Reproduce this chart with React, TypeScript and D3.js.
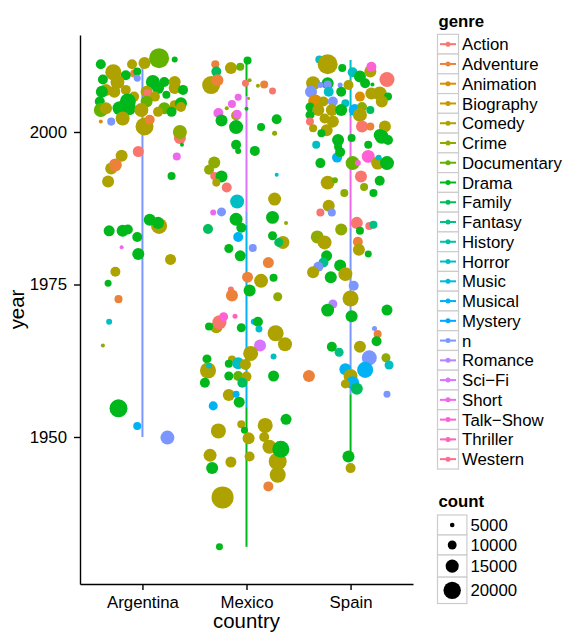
import React, { useEffect, useRef } from 'react';
import * as d3 from 'd3';

// [year, jitter (in category steps), genre, count]
type Film = [number, number, string, number];
// [from year, to year, genre]
type Seg = [number, number, string];

const countries = ['Argentina', 'Mexico', 'Spain'];
const genres = ['Action', 'Adventure', 'Animation', 'Biography', 'Comedy', 'Crime', 'Documentary', 'Drama',
    'Family', 'Fantasy', 'History', 'Horror', 'Music', 'Musical', 'Mystery', 'n', 'Romance', 'Sci\u2212Fi',
    'Short', 'Talk\u2212Show', 'Thriller', 'Western'];
const yearTicks = [1950, 1975, 2000];
const countBreaks = [5000, 10000, 15000, 20000];

const argentinaFilms: Film[] = [
    [2011.1, -0.40, 'Drama', 11300], [2009.8, -0.28, 'Comedy', 18400], [2011.1, -0.10, 'Comedy', 11300],
    [2011.3, 0.02, 'Comedy', 13700], [2012.1, 0.16, 'Documentary', 23000], [2011.9, 0.31, 'Drama', 6600],
    [2009.6, -0.08, 'Adventure', 9000], [2009.9, -0.05, 'Drama', 9000], [2008.8, -0.05, 'n', 7800],
    [2009.3, -0.16, 'Drama', 11300], [2008.6, -0.38, 'Drama', 11300], [2008.2, -0.24, 'Comedy', 16000],
    [2008.2, 0.10, 'Drama', 16000], [2008.2, 0.21, 'Drama', 11300], [2008.2, 0.31, 'Comedy', 13700],
    [2006.9, -0.35, 'Comedy', 13700], [2006.6, -0.39, 'Drama', 13700], [2006.6, -0.27, 'Comedy', 13700],
    [2006.9, -0.16, 'Comedy', 11300], [2006.6, 0.04, 'Comedy', 13700], [2006.4, 0.05, 'Action', 9000],
    [2007.2, 0.15, 'Drama', 13700], [2006.1, 0.23, 'Drama', 9000], [2007.2, 0.31, 'Comedy', 13700],
    [2006.9, 0.39, 'Drama', 11300], [2005.8, 0.12, 'Comedy', 11300], [2005.8, -0.08, 'Comedy', 11300],
    [2005.0, -0.41, 'Drama', 11300], [2005.0, -0.14, 'Drama', 18400], [2005.0, 0.04, 'Documentary', 13700],
    [2003.9, 0.21, 'Documentary', 13700], [2004.4, 0.31, 'Comedy', 11300], [2004.7, 0.37, 'Drama', 13700],
    [2003.6, -0.40, 'Documentary', 16000], [2003.9, -0.35, 'Comedy', 13700], [2003.9, -0.22, 'Drama', 16000],
    [2003.9, -0.13, 'Drama', 16000], [2003.6, -0.01, 'Comedy', 16000], [2003.3, 0.15, 'Comedy', 11300],
    [2003.3, 0.28, 'Drama', 11300], [2004.1, 0.37, 'Comedy', 11300], [2002.2, -0.19, 'Comedy', 16000],
    [2000.9, 0.02, 'Comedy', 20700], [2002.0, 0.07, 'Adventure', 11300], [2001.7, -0.40, 'Animation', 4300],
    [2001.7, -0.30, 'n', 9000], [1999.0, 0.36, 'Action', 13700], [2000.0, 0.36, 'Crime', 16000],
    [1997.9, 0.38, 'Drama', 4300], [1996.8, -0.04, 'Action', 12500], [1996.1, -0.20, 'Comedy', 13700],
    [1994.0, -0.30, 'Comedy', 13700], [1994.6, -0.26, 'Adventure', 14800], [1991.9, -0.33, 'Comedy', 13700],
    [1996.0, 0.33, 'Short', 9000], [1992.8, 0.28, 'Drama', 9000], [1984.6, 0.16, 'Comedy', 18400],
    [1983.8, -0.32, 'Drama', 12500], [1983.8, -0.19, 'Drama', 13700], [1984.0, -0.14, 'Drama', 11300],
    [1982.8, -0.05, 'Drama', 11300], [1985.6, 0.07, 'Drama', 13700], [1985.1, 0.15, 'Drama', 13700],
    [1981.1, -0.20, 'Short', 4300], [1980.0, -0.04, 'Drama', 13700], [1979.1, 0.27, 'Comedy', 12500],
    [1977.1, -0.26, 'Comedy', 11300], [1975.2, -0.33, 'Drama', 7800], [1972.6, -0.23, 'Adventure', 9000],
    [1968.9, -0.32, 'Horror', 6600], [1965.0, -0.38, 'Crime', 4300], [1954.7, -0.23, 'Drama', 20700],
    [1951.8, -0.05, 'Musical', 9000], [1949.9, 0.24, 'n', 16000],
];

const mexicoFilms: Film[] = [
    [2007.7, -0.34, 'Comedy', 20700], [2011.1, -0.30, 'Adventure', 9000], [2009.9, -0.29, 'Family', 11300],
    [2008.5, -0.28, 'Adventure', 13700], [2010.5, -0.15, 'Comedy', 13700], [2010.7, -0.06, 'Documentary', 9000],
    [2011.7, 0.01, 'Drama', 9000], [2008.0, -0.01, 'Action', 7800], [2008.5, 0.03, 'Crime', 4300],
    [2007.6, 0.11, 'Crime', 4300], [2007.8, 0.17, 'Adventure', 9000], [2006.7, 0.25, 'Action', 7800],
    [2005.5, 0.02, 'Crime', 3100], [2005.7, -0.08, 'Short', 7800], [2004.6, -0.14, 'Short', 9000],
    [2003.9, -0.19, 'Crime', 4300], [2003.1, -0.27, 'Short', 11300], [2002.7, -0.10, 'Comedy', 11300],
    [2002.9, -0.09, 'Short', 10200], [2003.8, 0.00, 'Drama', 4300], [2001.9, -0.24, 'Drama', 13700],
    [2000.8, -0.10, 'Drama', 16000], [2002.1, 0.29, 'Drama', 11300], [2000.8, 0.14, 'Drama', 9000],
    [1999.8, 0.27, 'Crime', 5500], [1997.9, -0.10, 'Drama', 11300], [1996.9, 0.08, 'Drama', 11300],
    [1996.9, -0.08, 'Drama', 6600], [1995.0, -0.31, 'Crime', 13700], [1993.8, -0.36, 'Crime', 11300],
    [1992.8, -0.31, 'Action', 9000], [1992.7, -0.24, 'Drama', 13700], [1991.7, -0.29, 'Comedy', 9000],
    [1990.9, -0.19, 'Action', 11300], [1988.6, -0.09, 'Horror', 16000], [1986.8, -0.32, 'Short', 6600],
    [1986.9, -0.24, 'n', 10200], [1985.7, -0.10, 'Drama', 14800], [1984.3, -0.05, 'Drama', 11300],
    [1993.0, 0.29, 'Horror', 4300], [1989.0, 0.27, 'Comedy', 14800], [1986.0, 0.25, 'Drama', 14800],
    [1985.1, 0.38, 'Crime', 4300], [1984.1, -0.37, 'Family', 11300], [1982.8, -0.08, 'Musical', 11300],
    [1981.0, 0.06, 'n', 9000], [1980.9, -0.17, 'Drama', 10200], [1979.7, -0.06, 'Drama', 12500],
    [1983.0, 0.25, 'Drama', 10200], [1981.9, 0.35, 'Comedy', 14800], [1981.9, 0.31, 'Family', 10200],
    [1978.6, 0.21, 'Adventure', 12500], [1976.2, 0.01, 'Adventure', 12500], [1975.6, 0.14, 'Comedy', 16000],
    [1976.1, 0.26, 'Drama', 9000], [1974.0, 0.03, 'Drama', 13700], [1974.2, -0.15, 'Action', 6600],
    [1973.2, -0.14, 'Adventure', 13700], [1973.0, 0.30, 'Crime', 10200], [1968.0, -0.29, 'Comedy', 13700],
    [1968.8, -0.26, 'Action', 16000], [1969.7, -0.22, 'Talk\u2212Show', 10200], [1969.8, -0.11, 'Thriller', 5500],
    [1968.1, -0.36, 'Drama', 9000], [1967.9, -0.05, 'Drama', 10200], [1968.9, 0.07, 'Musical', 6600],
    [1968.9, 0.11, 'Drama', 11300], [1967.7, 0.12, 'Horror', 7800], [1967.0, 0.28, 'Comedy', 18400],
    [1965.2, 0.37, 'Comedy', 16000], [1965.0, 0.13, 'Sci\u2212Fi', 13700], [1963.7, 0.04, 'Comedy', 17200],
    [1963.2, 0.26, 'Horror', 6600], [1962.8, -0.38, 'Drama', 10200], [1960.9, -0.37, 'Comedy', 18400],
    [1961.7, -0.36, 'Horror', 6600], [1958.9, -0.40, 'Drama', 11300], [1962.7, -0.14, 'Comedy', 9000],
    [1962.0, -0.17, 'Drama', 9000], [1962.1, -0.08, 'Horror', 13700], [1961.9, -0.01, 'Comedy', 12500],
    [1960.0, -0.17, 'Drama', 10200], [1960.0, -0.08, 'Documentary', 11300], [1959.9, 0.00, 'Comedy', 11300],
    [1958.9, -0.04, 'Family', 11300], [1960.0, 0.26, 'Drama', 12500], [1956.9, -0.17, 'Comedy', 13700],
    [1957.0, -0.10, 'Musical', 7800], [1955.7, -0.07, 'Drama', 12500], [1955.1, -0.32, 'Musical', 10200],
    [1951.0, -0.27, 'Comedy', 17200], [1952.1, -0.05, 'Comedy', 9000], [1951.1, -0.02, 'Drama', 7800],
    [1949.8, 0.02, 'Comedy', 13700], [1951.9, 0.18, 'Comedy', 17200], [1952.9, 0.38, 'Drama', 12500],
    [1950.0, 0.17, 'Comedy', 11300], [1948.4, 0.22, 'Comedy', 16000], [1947.0, -0.35, 'Comedy', 14800],
    [1944.9, -0.33, 'Drama', 13700], [1945.9, -0.15, 'Comedy', 12500], [1946.8, 0.03, 'Comedy', 11300],
    [1946.0, 0.30, 'Comedy', 20700], [1943.8, 0.30, 'Comedy', 18400], [1948.0, 0.33, 'Drama', 19500],
    [1941.9, 0.21, 'Adventure', 11300], [1940.1, -0.23, 'Comedy', 25400], [1932.0, -0.26, 'Drama', 7800],
];

const spainFilms: Film[] = [
    [2011.9, -0.30, 'Horror', 9000], [2011.1, -0.22, 'Comedy', 23000], [2010.5, -0.08, 'Drama', 9000],
    [2009.8, 0.02, 'Horror', 11300], [2009.1, 0.09, 'Drama', 13700], [2009.9, 0.19, 'Comedy', 13700],
    [2010.7, 0.20, 'Talk\u2212Show', 11300], [2008.6, 0.35, 'Action', 17200], [2008.0, -0.36, 'Comedy', 16000],
    [2008.0, -0.22, 'Drama', 13700], [2007.8, -0.22, 'n', 9000], [2007.7, -0.29, 'n', 6600],
    [2007.7, -0.10, 'n', 5500], [2007.7, -0.02, 'Comedy', 11300], [2008.0, 0.14, 'Drama', 11300],
    [2007.8, 0.21, 'Drama', 4300], [2006.6, -0.38, 'n', 13700], [2006.6, -0.21, 'Horror', 11300],
    [2006.6, -0.09, 'Drama', 11300], [2005.8, 0.09, 'Animation', 11300], [2006.3, 0.20, 'Comedy', 13700],
    [2006.3, 0.28, 'Comedy', 16000], [2005.8, 0.36, 'Drama', 9000], [2005.0, -0.34, 'Animation', 16000],
    [2005.0, -0.26, 'Comedy', 11300], [2005.0, -0.17, 'n', 11300], [2004.7, -0.05, 'Horror', 9000],
    [2003.6, 0.04, 'Musical', 13700], [2004.1, 0.11, 'Crime', 11300], [2005.0, 0.30, 'Comedy', 13700],
    [2004.1, -0.39, 'Drama', 10200], [2003.6, -0.31, 'Comedy', 13700], [2003.6, -0.18, 'Comedy', 13700],
    [2003.6, -0.09, 'Drama', 13700], [2002.8, 0.09, 'Comedy', 16000], [2003.6, 0.19, 'Family', 9000],
    [2002.8, -0.39, 'Drama', 10200], [2002.2, -0.25, 'Comedy', 11300], [2001.7, -0.17, 'Comedy', 13700],
    [2001.7, -0.39, 'Action', 9000], [2000.9, 0.11, 'Action', 13700], [2000.9, 0.19, 'Adventure', 9000],
    [2000.6, -0.36, 'Comedy', 9000], [2000.3, -0.23, 'Comedy', 13700], [1999.8, -0.28, 'Drama', 9000],
    [1998.7, -0.12, 'Drama', 13700], [1999.0, 0.01, 'Drama', 9000], [2000.9, 0.33, 'Comedy', 13700],
    [1999.5, 0.28, 'Drama', 13700], [1998.7, 0.36, 'Drama', 11300], [1999.2, 0.30, 'Drama', 16000],
    [1997.9, 0.17, 'Drama', 9000], [1997.9, -0.33, 'Horror', 9000], [1997.6, -0.12, 'Drama', 9000],
    [1994.9, -0.29, 'Drama', 11300], [1995.8, -0.13, 'Musical', 11300], [1996.7, -0.10, 'Drama', 11300],
    [1994.9, 0.02, 'Documentary', 16000], [1996.0, 0.17, 'Talk\u2212Show', 14800], [1994.9, 0.07, 'Talk\u2212Show', 6600],
    [1994.9, 0.26, 'Comedy', 14800], [1994.9, 0.35, 'Drama', 16000], [1995.8, 0.27, 'Horror', 6600],
    [1992.7, 0.10, 'Action', 13700], [1992.0, 0.28, 'Drama', 11300], [1991.0, 0.13, 'Crime', 9000],
    [1990.0, 0.22, 'Drama', 9000], [1991.7, -0.22, 'Comedy', 16000], [1992.1, -0.15, 'Documentary', 6600],
    [1990.0, -0.06, 'Crime', 9000], [1987.9, -0.21, 'Comedy', 13700], [1986.8, -0.18, 'n', 9000],
    [1986.8, -0.29, 'Action', 9000], [1984.0, -0.09, 'Crime', 13700], [1985.1, 0.06, 'Action', 13700],
    [1984.6, 0.18, 'Action', 9000], [1984.8, 0.22, 'Fantasy', 9000], [1983.8, 0.09, 'Drama', 9000],
    [1982.8, -0.32, 'Crime', 14800], [1981.9, -0.25, 'Comedy', 16000], [1982.0, 0.07, 'Adventure', 11300],
    [1980.7, 0.08, 'Comedy', 13700], [1980.0, 0.17, 'Drama', 7800], [1979.7, -0.23, 'Drama', 12500],
    [1978.6, -0.26, 'Fantasy', 11300], [1977.9, -0.31, 'n', 11300], [1977.0, -0.36, 'Comedy', 13700],
    [1978.1, -0.10, 'Drama', 13700], [1976.7, -0.05, 'Comedy', 16000], [1976.2, -0.19, 'Drama', 13700],
    [1974.8, 0.03, 'n', 11300], [1972.7, 0.00, 'Comedy', 18400], [1971.8, -0.17, 'Romance', 10200],
    [1970.8, -0.22, 'Drama', 14800], [1969.8, 0.01, 'Drama', 13700], [1970.8, 0.35, 'Drama', 12500],
    [1967.8, 0.23, 'n', 5500], [1966.9, 0.26, 'Adventure', 9000], [1965.7, 0.25, 'Drama', 11300],
    [1964.8, -0.18, 'Drama', 11300], [1963.9, -0.11, 'Fantasy', 10200], [1964.8, 0.09, 'Comedy', 13700],
    [1963.0, 0.18, 'n', 17200], [1961.0, 0.14, 'Musical', 18400], [1963.0, 0.34, 'Crime', 10200],
    [1961.8, 0.37, 'Horror', 10200], [1961.1, -0.05, 'Musical', 13700], [1960.0, 0.00, 'Comedy', 16000],
    [1958.9, 0.02, 'Musical', 14800], [1958.7, -0.05, 'Comedy', 10200], [1957.9, 0.06, 'Family', 13700],
    [1957.0, 0.35, 'n', 7800], [1960.0, -0.40, 'Adventure', 13700], [1946.8, -0.02, 'Drama', 13700],
    [1944.9, 0.00, 'Comedy', 11300],
];

const argentinaLine: Seg[] = [[2011.5, 1950.0, 'n']];
const mexicoLine: Seg[] = [
    [2011.7, 2005.8, 'Drama'], [2005.8, 1986.9, 'Sci\u2212Fi'], [1986.9, 1984.8, 'n'],
    [1984.8, 1954.9, 'Musical'], [1954.9, 1932.0, 'Drama'],
];
const spainLine: Seg[] = [
    [2011.8, 2002.5, 'Horror'], [2002.5, 1984.3, 'Short'], [1984.3, 1957.0, 'n'], [1957.0, 1947.4, 'Drama'],
];

// ggplot-style hue (polar LUV) colour
function hueColor(h: number, c = 100, l = 65) {
    const hr = h * Math.PI / 180;
    const u = c * Math.cos(hr), v = c * Math.sin(hr);
    const Xn = 95.047, Yn = 100, Zn = 108.883;
    const den = Xn + 15 * Yn + 3 * Zn;
    const un = 4 * Xn / den, vn = 9 * Yn / den;
    const Y = Yn * Math.pow((l + 16) / 116, 3);
    const up = u / (13 * l) + un, vp = v / (13 * l) + vn;
    const X = Y * 9 * up / (4 * vp);
    const Z = Y * (12 - 3 * up - 20 * vp) / (4 * vp);
    const x = X / 100, y = Y / 100, z = Z / 100;
    const lin = [
        3.240479 * x - 1.53715 * y - 0.498535 * z,
        -0.969256 * x + 1.875992 * y + 0.041556 * z,
        0.055648 * x - 0.204043 * y + 1.057311 * z,
    ];
    const [r, g, b] = lin.map(t => {
        const s = t <= 0.0031308 ? 12.92 * t : 1.055 * Math.pow(t, 1 / 2.4) - 0.055;
        return Math.round(Math.max(0, Math.min(1, s)) * 255);
    });
    return d3.rgb(r, g, b).formatHex();
}

export default function App() {
    const svgRef = useRef<SVGSVGElement>(null);

    useEffect(() => {
        if (!svgRef.current) return;
        const svg = d3.select(svgRef.current);
        svg.selectAll("*").remove();

        const font = '"Liberation Sans", Arial, Helvetica, sans-serif';
        const left = 80, right = 413, top = 35, bottom = 584;

        const x = d3.scalePoint<string>().domain(countries).range([left, right]).padding(0.6);
        const y = d3.scaleLinear().domain([1925.9, 2015.9]).range([bottom, top]);
        const size = d3.scaleLinear().domain([0, 20000]).range([0.17, 8.7]);
        const color = d3.scaleOrdinal<string, string>()
            .domain(genres)
            .range(genres.map((_, i) => hueColor(15 + i * 360 / genres.length)));

        const step = x.step();
        const films: [string, Film[], Seg[]][] = [
            ['Argentina', argentinaFilms, argentinaLine],
            ['Mexico', mexicoFilms, mexicoLine],
            ['Spain', spainFilms, spainLine],
        ];

        // Lines
        films.forEach(([country, , segs]) => {
            svg.append("g").selectAll("line")
                .data(segs)
                .join("line")
                .attr("x1", x(country)!)
                .attr("x2", x(country)!)
                .attr("y1", d => y(d[0]))
                .attr("y2", d => y(d[1]))
                .attr("stroke", d => color(d[2]))
                .attr("stroke-width", 2);
        });

        // Points
        films.forEach(([country, rows]) => {
            svg.append("g").selectAll("circle")
                .data(rows)
                .join("circle")
                .attr("cx", d => x(country)! + d[1] * step)
                .attr("cy", d => y(d[0]))
                .attr("r", d => size(d[3]))
                .attr("fill", d => color(d[2]));
        });

        // Axes
        const yAxis = svg.append("g")
            .attr("transform", `translate(${left},0)`)
            .call(d3.axisLeft(y).tickValues(yearTicks).tickSize(6).tickSizeOuter(0).tickPadding(7).tickFormat(d3.format("d")));
        const xAxis = svg.append("g")
            .attr("transform", `translate(0,${bottom})`)
            .call(d3.axisBottom(x).tickSize(6).tickSizeOuter(0).tickPadding(6));
        [yAxis, xAxis].forEach(a => {
            a.attr("font-family", font).attr("font-size", 16.8);
            a.selectAll("text").attr("fill", "#000");
            a.selectAll("line, path").attr("stroke", "#000").attr("stroke-width", 1.4);
        });

        svg.append("text")
            .attr("x", (left + right) / 2)
            .attr("y", 628)
            .attr("text-anchor", "middle")
            .attr("font-family", font)
            .attr("font-size", 20.4)
            .text("country");

        svg.append("text")
            .attr("transform", `translate(23.5,${(top + bottom) / 2}) rotate(-90)`)
            .attr("text-anchor", "middle")
            .attr("font-family", font)
            .attr("font-size", 20.4)
            .text("year");

        // Genre legend
        const lg = svg.append("g").attr("font-family", font);
        lg.append("text").attr("x", 438.5).attr("y", 26.5)
            .attr("font-size", 16.8).attr("font-weight", "bold").text("genre");
        const rowH = 19.76, keyX = 437.5, keyW = 21, keyTop = 34.3;
        const rows = lg.selectAll("g.key").data(genres).join("g")
            .attr("class", "key")
            .attr("transform", (_, i) => `translate(${keyX},${keyTop + i * rowH})`);
        rows.append("rect").attr("width", keyW).attr("height", rowH)
            .attr("fill", "#fff").attr("stroke", "#cccccc").attr("stroke-width", 1.2);
        rows.append("line").attr("x1", 2.5).attr("x2", keyW - 2.5)
            .attr("y1", rowH / 2).attr("y2", rowH / 2)
            .attr("stroke", d => color(d)).attr("stroke-width", 2);
        rows.append("circle").attr("cx", keyW / 2).attr("cy", rowH / 2).attr("r", 2.5)
            .attr("fill", d => color(d));
        rows.append("text").attr("x", 24.5).attr("y", rowH / 2).attr("dy", "0.36em")
            .attr("font-size", 16.8).text(d => d);

        // Count legend
        const cg = svg.append("g").attr("font-family", font);
        cg.append("text").attr("x", 438.5).attr("y", 507)
            .attr("font-size", 16.8).attr("font-weight", "bold").text("count");
        const cW = 2 * size(d3.max(countBreaks)!) + 12;
        let cy = 515;
        countBreaks.forEach(b => {
            const r = size(b);
            const h = Math.max(20, 2 * r + 9);
            const k = cg.append("g").attr("transform", `translate(${keyX},${cy})`);
            k.append("rect").attr("width", cW).attr("height", h)
                .attr("fill", "#fff").attr("stroke", "#cccccc").attr("stroke-width", 1.2);
            k.append("circle").attr("cx", cW / 2).attr("cy", h / 2).attr("r", r).attr("fill", "#000");
            k.append("text").attr("x", cW + 3.5).attr("y", h / 2).attr("dy", "0.36em")
                .attr("font-size", 16.8).text(b);
            cy += h;
        });
    }, []);

    return (
        <svg ref={svgRef} width={568} height={633}
            style={{ position: 'absolute', left: 0, top: 0, background: '#fff' }} />
    );
}
